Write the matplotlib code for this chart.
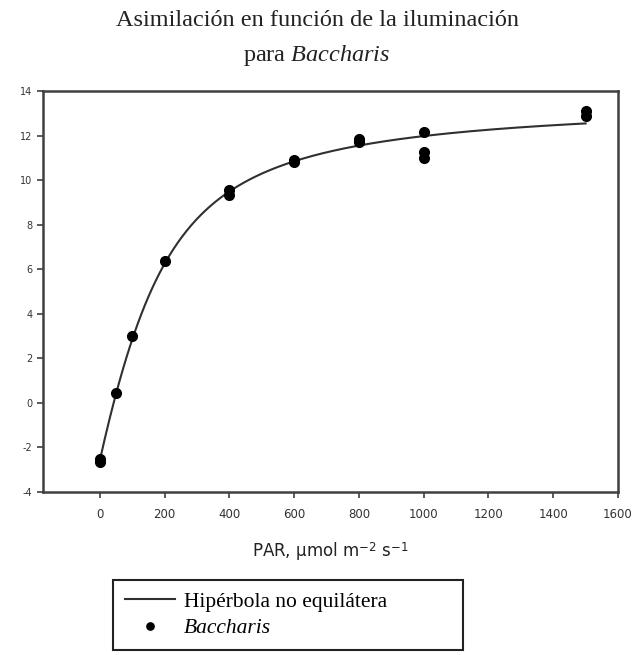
import numpy as np
import matplotlib
matplotlib.use("Agg")
import matplotlib.pyplot as plt

plt.rcParams['mathtext.fontset'] = 'custom'
plt.rcParams['mathtext.rm'] = 'Liberation Serif'
plt.rcParams['mathtext.it'] = 'Liberation Serif:italic'
plt.rcParams['mathtext.sf'] = 'DejaVu Sans'
plt.rcParams['axes.unicode_minus'] = False

# datos medidos (PAR, asimilación)
par = [0, 0, 50, 100, 200, 400, 400, 600, 600, 800, 800, 1000, 1000, 1000, 1500, 1500]
asim = [-2.5, -2.65, 0.45, 3.0, 6.35, 9.55, 9.35, 10.9, 10.8, 11.85, 11.7, 12.15, 11.25, 11.0, 13.1, 12.9]

# parámetros de la hipérbola no equilátera ajustada
phi = 0.065
amax = 16.2
theta = 0.6
rd = 2.55

xticks = [0, 200, 400, 600, 800, 1000, 1200, 1400, 1600]
yticks = [-4, -2, 0, 2, 4, 6, 8, 10, 12, 14]


def hiperbola(i):
    s = phi * i + amax
    return (s - np.sqrt(s ** 2 - 4 * theta * phi * i * amax)) / (2 * theta) - rd


fig = plt.figure(figsize=(6.34, 6.55), dpi=100)
ax = fig.add_axes([43 / 634, 1 - 492 / 655, 575 / 634, 401 / 655])

x_fit = np.linspace(0, 1500, 400)
ax.plot(x_fit, hiperbola(x_fit), color='#303030', lw=1.5, label='Hipérbola no equilátera')
ax.plot(par, asim, 'o', color='black', ms=7, label='Baccharis')

ax.set_xlim(-176, 1600)
ax.set_ylim(-4, 14)
ax.set_xticks(xticks)
ax.set_yticks(yticks)
ax.tick_params(direction='out', length=4.5, width=1.2, colors='#404040', labelcolor='#333333')
ax.tick_params(axis='x', labelsize=8.5, pad=7)
ax.tick_params(axis='y', labelsize=7, pad=3)
for s in ax.spines.values():
    s.set_linewidth(1.8)
    s.set_color('#404040')

ax.set_xlabel(r'PAR, µmol m$^{\mathsf{-2}}$ s$^{\mathsf{-1}}$', fontsize=12, color='#222222', labelpad=14)

fig.text(0.5, 1 - 21 / 655, 'Asimilación en función de la iluminación', ha='center', va='center',
         fontsize=17.5, family='Liberation Serif', color='#222222')
fig.text(0.5, 1 - 55 / 655, r'para $\it{Baccharis}$', ha='center', va='center',
         fontsize=17.5, family='Liberation Serif', color='#222222')

leg = fig.legend(loc='upper left', bbox_to_anchor=(113 / 634, 0, 350 / 634, 1 - 580 / 655), mode='expand',
                 fancybox=False, edgecolor='#222222', framealpha=1, borderaxespad=0,
                 prop={'family': 'Liberation Serif', 'size': 15.5}, handlelength=2.35,
                 handletextpad=0.4, labelspacing=0.3, borderpad=0.55, markerscale=0.75)
leg.get_frame().set_linewidth(1.5)
leg.get_texts()[1].set_fontstyle('italic')

fig.savefig('out.png', dpi=100)
